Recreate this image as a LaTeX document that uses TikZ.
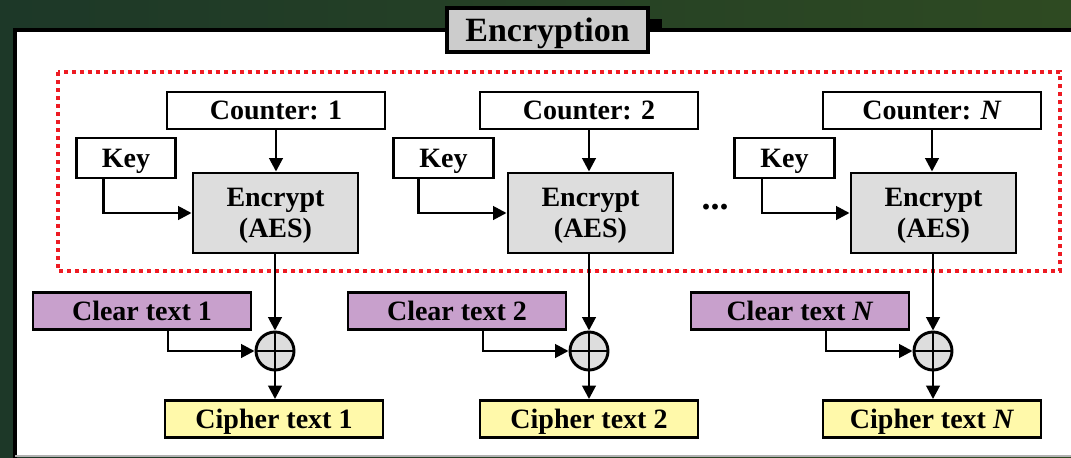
\documentclass[tikz,border=0pt]{standalone}
\usepackage{fontspec}
\setmainfont{Liberation Serif}
\usepackage{tikz}
\usetikzlibrary{arrows.meta}
\usepackage{xcolor}
\definecolor{slidegreenA}{RGB}{29,56,40}
\definecolor{slidegreenB}{RGB}{46,74,34}
\definecolor{ctrred}{RGB}{237,28,36}
\definecolor{aesgray}{RGB}{221,221,221}
\definecolor{titlegray}{RGB}{204,204,204}
\definecolor{cleartxt}{RGB}{200,160,204}
\definecolor{ciphertxt}{RGB}{255,249,170}

\begin{document}
\begin{tikzpicture}[x=0.75pt, y=-0.75pt,
  every node/.style={font=\fontsize{21}{23}\selectfont\bfseries, inner sep=0pt, text depth=0pt, line width=2.2pt},
  box/.style={draw, minimum height=27.75pt},
  ctrbox/.style={box, fill=white, minimum width=163.5pt},
  keybox/.style={box, fill=white, minimum width=74.5pt, minimum height=30pt},
  aesbox/.style={draw, fill=aesgray, minimum width=123.75pt, minimum height=60pt, align=center},
  clrbox/.style={box, fill=cleartxt, minimum width=163.5pt},
  cipbox/.style={box, fill=ciphertxt, minimum width=163.5pt},
  xorc/.style={circle, draw, fill=aesgray, minimum size=28.5pt,
    path picture={\draw[line width=1.5pt] (path picture bounding box.north) -- (path picture bounding box.south)
      (path picture bounding box.west) -- (path picture bounding box.east);}},
  arr/.style={-{Triangle[length=10pt,width=10pt]}, line width=2pt}]
  \useasboundingbox (0,0) rectangle (1071,457);
  \shade[left color=slidegreenA, right color=slidegreenB] (0,0) rectangle (1071,457);
  \fill[white] (15,30) rectangle (1080,455);
  \draw[line width=2.4pt] (15,458) -- (15,30) -- (1080,30);
  \draw[black!30, line width=1.5pt] (15,455.5) -- (1080,455.5);
  \fill (648,19) rectangle (662,30);
  \node[draw, fill=titlegray, minimum width=150.75pt, minimum height=33pt, line width=2.4pt,
    font=\fontsize{25.5}{27}\selectfont\bfseries] (title) at (547.5,30) {Encryption};
  \draw[ctrred, line width=3pt, dash pattern=on 3pt off 3pt] (58,72) rectangle (1060,271);

  \node[ctrbox] (cnt1) at (276,110.5) {Counter: 1};
  \node[keybox] (key1) at (126,158) {Key};
  \node[aesbox] (enc1) at (275.5,213) {Encrypt\\(AES)};
  \node[clrbox] (clr1) at (142,311) {Clear text 1};
  \node[xorc] (xor1) at (275,351) {};
  \node[cipbox] (cip1) at (274,419) {Cipher text 1};

  \node[ctrbox] (cnt2) at (589,110.5) {Counter: 2};
  \node[keybox] (key2) at (443.5,158) {Key};
  \node[aesbox] (enc2) at (590.5,213) {Encrypt\\(AES)};
  \node[clrbox] (clr2) at (457,311) {Clear text 2};
  \node[xorc] (xor2) at (589,351) {};
  \node[cipbox] (cip2) at (589,419) {Cipher text 2};

  \node[font=\fontsize{27}{27}\selectfont\bfseries] (dots) at (715,207) {...};

  \node[ctrbox] (cntN) at (932,110.5) {Counter: \textit{N}};
  \node[keybox] (keyN) at (784.5,158) {Key};
  \node[aesbox] (encN) at (933.5,213) {Encrypt\\(AES)};
  \node[clrbox] (clrN) at (800,311) {Clear text \textit{N}};
  \node[xorc] (xorN) at (933,351) {};
  \node[cipbox] (cipN) at (932,419) {Cipher text \textit{N}};

  \draw[arr] (cnt1) -- (cnt1 |- enc1.north);
  \draw[arr] ([xshift=-17pt]key1.south) |- (enc1);
  \draw[arr] (xor1 |- enc1.south) -- (xor1);
  \draw[arr] ([xshift=19.5pt]clr1.south) |- (xor1);
  \draw[arr] (xor1) -- (xor1 |- cip1.north);

  \draw[arr] (cnt2) -- (cnt2 |- enc2.north);
  \draw[arr] ([xshift=-19pt]key2.south) |- (enc2);
  \draw[arr] (xor2 |- enc2.south) -- (xor2);
  \draw[arr] ([xshift=19.5pt]clr2.south) |- (xor2);
  \draw[arr] (xor2) -- (xor2 |- cip2.north);

  \draw[arr] (cntN) -- (cntN |- encN.north);
  \draw[arr] ([xshift=-17pt]keyN.south) |- (encN);
  \draw[arr] (xorN |- encN.south) -- (xorN);
  \draw[arr] ([xshift=19.5pt]clrN.south) |- (xorN);
  \draw[arr] (xorN) -- (xorN |- cipN.north);
\end{tikzpicture}
\end{document}
